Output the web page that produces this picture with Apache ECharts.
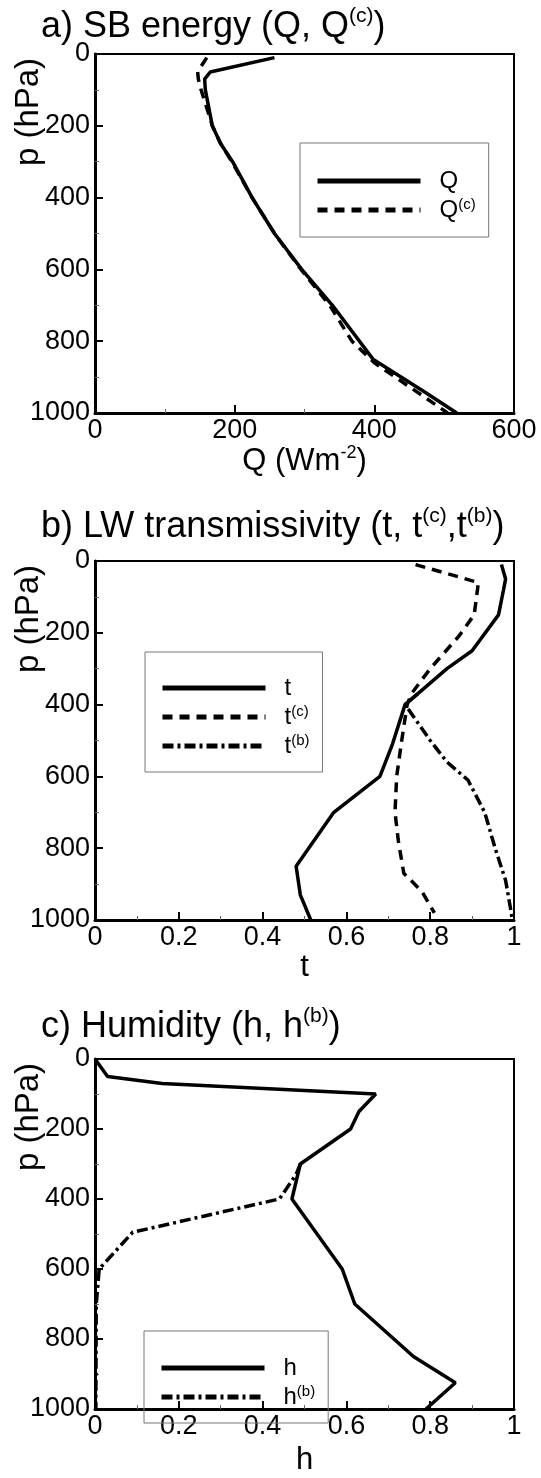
<!DOCTYPE html>
<html>
<head>
<meta charset="utf-8">
<script src="https://cdn.jsdelivr.net/npm/echarts@6/dist/echarts.min.js"></script>
<style>
  html, body { margin: 0; padding: 0; background: #fff; }
  #chart { width: 541px; height: 1478px; }
</style>
</head>
<body>
<div id="chart"></div>
<script>
// a) SB energy
var pQ  = [10, 50, 70, 100, 150, 200, 250, 300, 400, 500, 600, 700, 850, 940, 1000];
var Q   = [257, 165, 157, 158, 163, 168, 180, 197, 225, 257, 296, 340, 398, 471, 518];
var pQc = [10, 50, 70, 100, 150, 200, 250, 300, 400, 500, 600, 700, 800, 860, 1000];
var Qc  = [160, 147, 148, 152, 160, 168, 180, 196, 225, 257, 295, 336, 368, 400, 505];

// b) LW transmissivity
var pT  = [10, 50, 80, 150, 250, 300, 370, 400, 510, 600, 700, 850, 930, 1000];
var T   = [0.97, 0.98, 0.975, 0.963, 0.90, 0.84, 0.77, 0.74, 0.71, 0.68, 0.57, 0.48, 0.49, 0.515];
var pTc = [10, 60, 150, 210, 300, 370, 400, 500, 600, 700, 780, 870, 920, 980];
var Tc  = [0.765, 0.915, 0.905, 0.868, 0.80, 0.755, 0.745, 0.732, 0.72, 0.716, 0.724, 0.737, 0.78, 0.81];
var pTb = [370, 400, 500, 560, 610, 700, 800, 890, 970, 1000];
var Tb  = [0.77, 0.74, 0.80, 0.84, 0.89, 0.93, 0.955, 0.98, 0.992, 0.996];

// c) Humidity
var pH  = [0, 50, 70, 100, 150, 200, 250, 300, 400, 500, 600, 700, 850, 925, 1000];
var H   = [0, 0.03, 0.16, 0.67, 0.63, 0.61, 0.55, 0.49, 0.47, 0.53, 0.59, 0.62, 0.76, 0.86, 0.79];
var pHb = [300, 330, 400, 495, 600, 700, 1000];
var Hb  = [0.49, 0.48, 0.44, 0.09, 0.01, 0.003, 0.002];

var titles = ['a) SB energy (Q, Q{sup|(c)})',
              'b) LW transmissivity (t, t{sup|(c)},t{sup|(b)})',
              'c) Humidity (h, h{sup|(b)})'];
var xNames = ['Q (Wm{sup|-2})', 't', 'h'];
var legendText = {
  'Q': 'Q', 'Qc': 'Q{sup|(c)}',
  't': 't', 'tc': 't{sup|(c)}', 'tb': 't{sup|(b)}',
  'h': 'h', 'hb': 'h{sup|(b)}'
};

var FONT = 'Liberation Sans';
var tops = [54, 561, 1059];
var titleTops = [1, 501, 1001];
var GL = 95, GW = 419, GH = 359;

function pairs(xs, ps) {
  return xs.map(function (v, i) { return [v, ps[i]]; });
}

var chart = echarts.init(document.getElementById('chart'));

var supTitle = { fontSize: 21, fontFamily: FONT, verticalAlign: 'top', lineHeight: 21, color: '#000' };
var supName  = { fontSize: 18, fontFamily: FONT, verticalAlign: 'top', lineHeight: 18, color: '#000' };
var supSmall = { fontSize: 15, fontFamily: FONT, verticalAlign: 'top', lineHeight: 15, color: '#000' };

function xAxisFor(i, max, interval, gap) {
  return {
    gridIndex: i, type: 'value', min: 0, max: max, interval: interval,
    name: xNames[i], nameLocation: 'middle', nameGap: gap, nameMoveOverlap: false,
    nameTextStyle: { fontSize: 31, fontFamily: FONT, color: '#000', lineHeight: 34,
                     rich: { sup: supName } },
    axisLine: { onZero: false, lineStyle: { color: '#000', width: 3 } },
    axisTick: { inside: true, length: 8, lineStyle: { color: '#000', width: 2 } },
    minorTick: { show: true, splitNumber: 2, length: 4, lineStyle: { color: '#666', width: 1 } },
    axisLabel: { fontSize: 27, fontFamily: FONT, color: '#000', margin: 4,
                 formatter: function (v) { return String(v); } },
    splitLine: { show: false }
  };
}
function yAxisFor(i) {
  return {
    gridIndex: i, type: 'value', min: 0, max: 1000, interval: 200, inverse: true,
    axisLine: { onZero: false, lineStyle: { color: '#000', width: 3 } },
    axisTick: { inside: true, length: 8, lineStyle: { color: '#000', width: 2 } },
    minorTick: { show: true, splitNumber: 2, length: 4, lineStyle: { color: '#666', width: 1 } },
    axisLabel: { fontSize: 27, fontFamily: FONT, color: '#000', margin: 5,
                 formatter: function (v) { return String(v); } },
    splitLine: { show: false }
  };
}
function line(name, i, data, type) {
  return {
    name: name, type: 'line', xAxisIndex: i, yAxisIndex: i,
    data: data, symbol: 'none', animation: false, color: '#000',
    lineStyle: { color: '#000', width: 3.5, type: type }
  };
}
function legendFor(names, left, top, pad) {
  return {
    orient: 'vertical', left: left, top: top, padding: pad,
    data: names, selectedMode: false,
    itemWidth: 103, itemHeight: 14, itemGap: 3,
    borderColor: '#777', borderWidth: 1, backgroundColor: 'transparent',
    itemStyle: { opacity: 0 },
    lineStyle: { width: 5 },
    formatter: function (n) { return legendText[n]; },
    textStyle: { fontSize: 24, fontFamily: FONT, color: '#000', lineHeight: 26,
                 padding: [0, 0, 0, 14], rich: { sup: supSmall } }
  };
}

var DASH = [10, 7];
var DASHDOT = [11, 4, 3, 4];

chart.setOption({
  backgroundColor: '#fff',
  animation: false,
  title: titles.map(function (t, i) {
    return {
      text: t, left: 36, top: titleTops[i],
      textStyle: { fontSize: 36, fontFamily: FONT, fontWeight: 'normal', color: '#000',
                   lineHeight: 42, rich: { sup: supTitle } }
    };
  }),
  grid: tops.map(function (t) {
    return { left: GL, top: t, width: GW, height: GH, show: true,
             borderColor: '#000', borderWidth: 2, containLabel: false };
  }),
  xAxis: [xAxisFor(0, 600, 200, 31), xAxisFor(1, 1, 0.2, 30), xAxisFor(2, 1, 0.2, 34)],
  yAxis: [yAxisFor(0), yAxisFor(1), yAxisFor(2)],
  legend: [
    legendFor(['Q', 'Qc'], 300, 143, [25, 13, 14, 15]),
    legendFor(['t', 'tc', 'tb'], 145, 652, [23, 13, 13, 15]),
    legendFor(['h', 'hb'], 144, 1331, [24, 13, 13, 15])
  ],
  graphic: tops.map(function (t) {
    return {
      type: 'text', x: 29, y: t + 58, rotation: Math.PI / 2, z: 10,
      style: { text: 'p (hPa)', fontSize: 33, fontFamily: FONT, fill: '#000',
               align: 'center', verticalAlign: 'middle' }
    };
  }),
  series: [
    line('Q', 0, pairs(Q, pQ), 'solid'),
    line('Qc', 0, pairs(Qc, pQc), DASH),
    line('t', 1, pairs(T, pT), 'solid'),
    line('tc', 1, pairs(Tc, pTc), DASH),
    line('tb', 1, pairs(Tb, pTb), DASHDOT),
    line('h', 2, pairs(H, pH), 'solid'),
    line('hb', 2, pairs(Hb, pHb), DASHDOT)
  ]
});
</script>
</body>
</html>
